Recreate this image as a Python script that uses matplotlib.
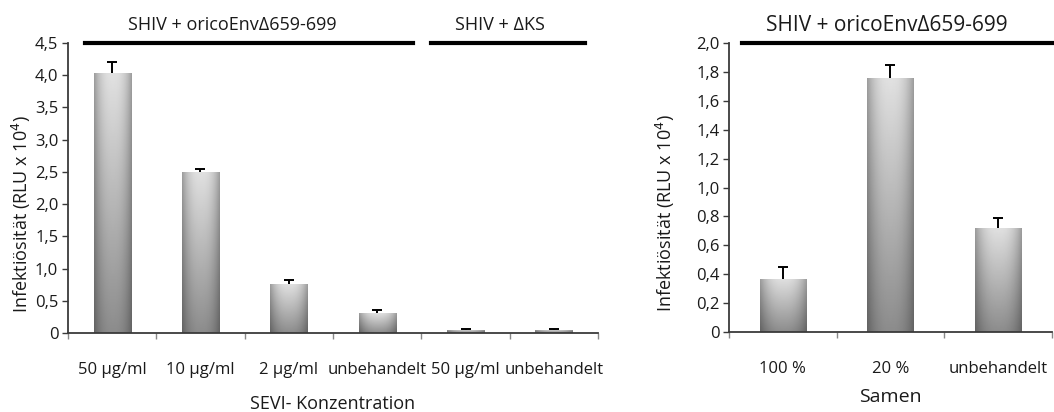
import matplotlib
matplotlib.use("Agg")
import matplotlib.pyplot as plt
import matplotlib.transforms as mtransforms
import numpy as np

# ── Data ─────────────────────────────────────────────────────────────────────
left_labels = ["50 µg/ml", "10 µg/ml", "2 µg/ml", "unbehandelt", "50 µg/ml", "unbehandelt"]
left_values = [4.03, 2.50, 0.76, 0.31, 0.05, 0.05]
left_errors = [0.17, 0.04, 0.06, 0.04, 0.01, 0.01]

right_labels = ["100 %", "20 %", "unbehandelt"]
right_values = [0.37, 1.755, 0.72]
right_errors = [0.08, 0.09, 0.07]

left_ticks = [0, 0.5, 1.0, 1.5, 2.0, 2.5, 3.0, 3.5, 4.0, 4.5]
right_ticks = [0, 0.2, 0.4, 0.6, 0.8, 1.0, 1.2, 1.4, 1.6, 1.8, 2.0]

plt.rcParams["font.family"] = ["Open Sans", "DejaVu Sans"]
FS = 12
TXT = "#1a1a1a"
AX = "#3a3a3a"


def fmt(v):
    return "0" if v == 0 else f"{v:.1f}".replace(".", ",")


def shaded_bars(ax, x, vals, width):
    bars = ax.bar(x, vals, width=width, color="#a8a8a8", zorder=2, linewidth=0)
    # cylinder-like shading: light top, darker bottom, darker edges
    xs = np.linspace(-1, 1, 60)
    ys = np.linspace(1, 0, 80)[:, None]
    horiz = 1 - 0.30 * np.abs(xs) ** 2.5
    grad = (0.55 + 0.33 * ys) * horiz[None, :]
    for b in bars:
        x0, w, h = b.get_x(), b.get_width(), b.get_height()
        im = ax.imshow(grad, extent=[x0, x0 + w, 0, h], cmap="gray", vmin=0, vmax=1,
                       aspect="auto", zorder=2, interpolation="bilinear")
        im.set_clip_path(b)
    return bars


def upper_errors(ax, x, vals, errs):
    _, caps, _ = ax.errorbar(x, vals, yerr=[np.zeros(len(errs)), errs], fmt="none",
                             ecolor="black", elinewidth=1.4, capsize=3.5, capthick=1.4,
                             zorder=3)
    caps[0].set_visible(False)   # only the upper "T" cap


def style_axis(ax, n, labels, ticks, ymax):
    ax.set_xlim(-0.5, n - 0.5)
    ax.set_ylim(0, ymax)
    for s in ["top", "right"]:
        ax.spines[s].set_visible(False)
    for s in ["left", "bottom"]:
        ax.spines[s].set_color(AX)
        ax.spines[s].set_linewidth(1.3)
    ax.set_yticks(ticks)
    ax.set_yticklabels([fmt(t) for t in ticks], fontsize=FS, color=TXT)
    ax.tick_params(axis="y", length=4, width=1, color=AX, pad=3)
    ax.set_xticks(range(n))
    ax.set_xticklabels(labels, fontsize=FS, color=TXT)
    ax.tick_params(axis="x", which="major", length=0, pad=21)
    ax.set_xticks(np.arange(-0.5, n, 1.0), minor=True)
    ax.tick_params(axis="x", which="minor", length=4, width=1, color="#888888")


fig = plt.figure(figsize=(10.54, 4.12), dpi=100)
axL = fig.add_axes([0.0645, 0.1917, 0.5029, 0.7039])
axR = fig.add_axes([0.6917, 0.1942, 0.3063, 0.7014])

# ── Left panel ──────────────────────────────────────────────────────────────
xl = np.arange(len(left_values))
shaded_bars(axL, xl, left_values, 0.42)
upper_errors(axL, xl, left_values, left_errors)
style_axis(axL, len(left_values), left_labels, left_ticks, 4.5)
axL.set_ylabel("Infektiösität (RLU x 10$^4$)", fontsize=13, color=TXT)
axL.yaxis.set_label_coords(-0.066, 0.41)
axL.set_xlabel("SEVI- Konzentration", fontsize=13, color=TXT, labelpad=12)

tL = mtransforms.blended_transform_factory(axL.transData, axL.transAxes)
axL.plot([-0.31, 3.40], [1.0, 1.0], color="black", lw=3, transform=tL, clip_on=False)
axL.plot([3.61, 5.35], [1.0, 1.0], color="black", lw=3, transform=tL, clip_on=False)
axL.text(1.36, 1.062, "SHIV + oricoEnvΔ659-699", transform=tL, ha="center", va="center",
         fontsize=13, color=TXT)
axL.text(4.39, 1.062, "SHIV + ΔKS", transform=tL, ha="center", va="center",
         fontsize=13, color=TXT)

# ── Right panel ─────────────────────────────────────────────────────────────
xr = np.arange(len(right_values))
shaded_bars(axR, xr, right_values, 0.43)
upper_errors(axR, xr, right_values, right_errors)
style_axis(axR, len(right_values), right_labels, right_ticks, 2.0)
axR.set_ylabel("Infektiösität (RLU x 10$^4$)", fontsize=13, color=TXT)
axR.yaxis.set_label_coords(-0.162, 0.41)
axR.set_xlabel("Samen", fontsize=14, color=TXT, labelpad=8)

tR = mtransforms.blended_transform_factory(axR.transData, axR.transAxes)
axR.plot([-0.38, 2.53], [1.0, 1.0], color="black", lw=3, transform=tR, clip_on=False)
axR.text(0.97, 1.062, "SHIV + oricoEnvΔ659-699", transform=tR, ha="center", va="center",
         fontsize=15, color=TXT)

fig.savefig("out.png", dpi=100)
